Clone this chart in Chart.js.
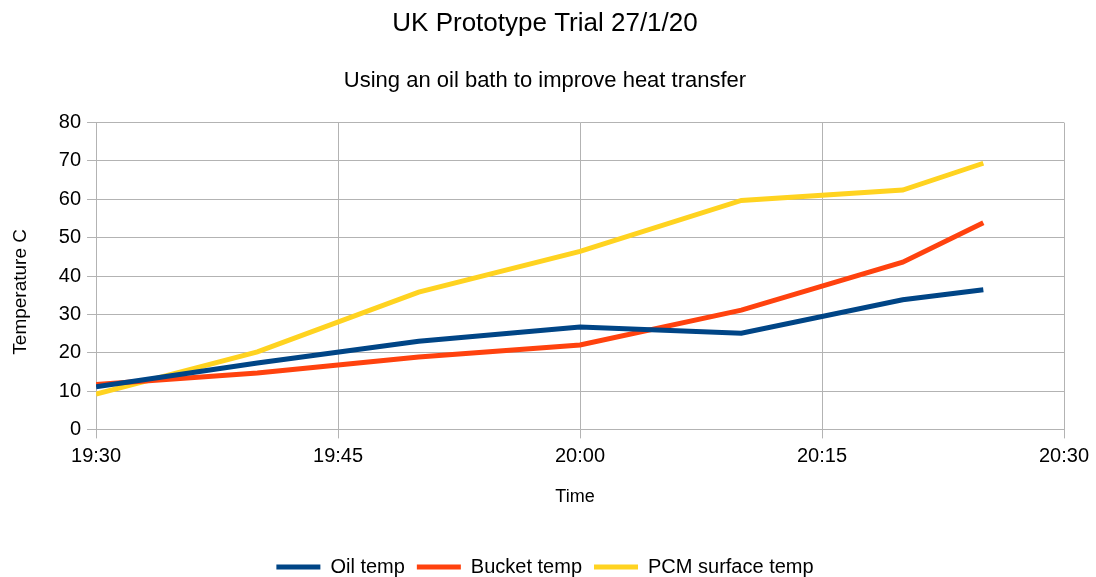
<!DOCTYPE html>
<html>
<head>
<meta charset="utf-8">
<script src="https://cdn.jsdelivr.net/npm/chart.js@4/dist/chart.umd.min.js"></script>
<style>
    html, body { margin: 0; padding: 0; background: #fff; }
    #wrap { width: 1096px; height: 577px; }
</style>
</head>
<body>
<div id="wrap"><canvas id="chart" width="1096" height="577"></canvas></div>
<script>
// readings taken during the trial
const times = ['19:30', '19:40', '19:50', '20:00', '20:10', '20:20', '20:25'];
const oilTemp = [11.1, 17.3, 23.0, 26.7, 25.1, 33.8, 36.4];
const bucketTemp = [11.7, 14.7, 18.9, 22.0, 31.1, 43.6, 53.9];
const pcmTemp = [9.2, 20.2, 35.8, 46.4, 59.7, 62.4, 69.4];
const xTickLabels = ['19:30', '19:45', '20:00', '20:15', '20:30'];

const toMinutes = t => {
    const [h, m] = t.split(':').map(Number);
    return h * 60 + m;
};
const fromMinutes = v => {
    const h = Math.floor(v / 60);
    const m = Math.round(v % 60);
    return h + ':' + String(m).padStart(2, '0');
};

const xMin = toMinutes(xTickLabels[0]);
const xMax = toMinutes(xTickLabels[xTickLabels.length - 1]);

const makeSeries = values => times.map((t, i) => ({ x: toMinutes(t), y: values[i] }));

const font = 'Liberation Sans, Arial, sans-serif';
const gridColor = '#b3b3b3';
const nbsp = n => '\u00a0'.repeat(n);

new Chart(document.getElementById('chart'), {
    type: 'line',
    data: {
        datasets: [
            { label: 'Oil temp', data: makeSeries(oilTemp), borderColor: '#004586', backgroundColor: '#004586', borderWidth: 5 },
            { label: 'Bucket temp', data: makeSeries(bucketTemp), borderColor: '#ff420e', backgroundColor: '#ff420e', borderWidth: 5 },
            { label: 'PCM surface temp', data: makeSeries(pcmTemp), borderColor: '#ffd320', backgroundColor: '#ffd320', borderWidth: 5 }
        ]
    },
    options: {
        responsive: false,
        animation: false,
        // left padding keeps the titles centred on the page like the original
        layout: { padding: { left: 26, right: 32, top: 8, bottom: -10 } },
        elements: {
            line: { tension: 0 },
            point: { radius: 0, hoverRadius: 0 }
        },
        plugins: {
            title: {
                display: true,
                text: 'UK Prototype Trial 27/1/20',
                color: '#000',
                font: { family: font, size: 26, weight: 'normal' },
                padding: { top: 0, bottom: 29 }
            },
            subtitle: {
                display: true,
                text: 'Using an oil bath to improve heat transfer',
                color: '#000',
                font: { family: font, size: 22, weight: 'normal' },
                padding: { top: 0, bottom: 28 }
            },
            legend: {
                position: 'bottom',
                labels: {
                    usePointStyle: true,
                    pointStyle: 'line',
                    pointStyleWidth: 44,
                    color: '#000',
                    padding: 12,
                    font: { family: font, size: 20 }
                }
            },
            tooltip: { enabled: false }
        },
        scales: {
            x: {
                type: 'linear',
                min: xMin,
                max: xMax,
                afterBuildTicks: axis => {
                    axis.ticks = xTickLabels.map(t => ({ value: toMinutes(t) }));
                },
                ticks: {
                    color: '#000',
                    font: { family: font, size: 20 },
                    maxRotation: 0,
                    padding: 6,
                    callback: v => fromMinutes(v)
                },
                grid: { color: gridColor, tickLength: 9, lineWidth: 1 },
                border: { color: gridColor },
                title: {
                    display: true,
                    // trailing spaces nudge the title a little left, as in the original
                    text: 'Time' + nbsp(2),
                    color: '#000',
                    font: { family: font, size: 18 },
                    padding: { top: 12, bottom: 37 }
                }
            },
            y: {
                min: 0,
                max: 80,
                ticks: {
                    stepSize: 10,
                    color: '#000',
                    font: { family: font, size: 20 },
                    padding: 6
                },
                grid: { color: gridColor, tickLength: 9, lineWidth: 1 },
                border: { color: gridColor },
                title: {
                    display: true,
                    text: 'Temperature C' + nbsp(6),
                    color: '#000',
                    font: { family: font, size: 19 },
                    padding: { top: -17, bottom: 21 }
                }
            }
        }
    }
});
</script>
</body>
</html>
